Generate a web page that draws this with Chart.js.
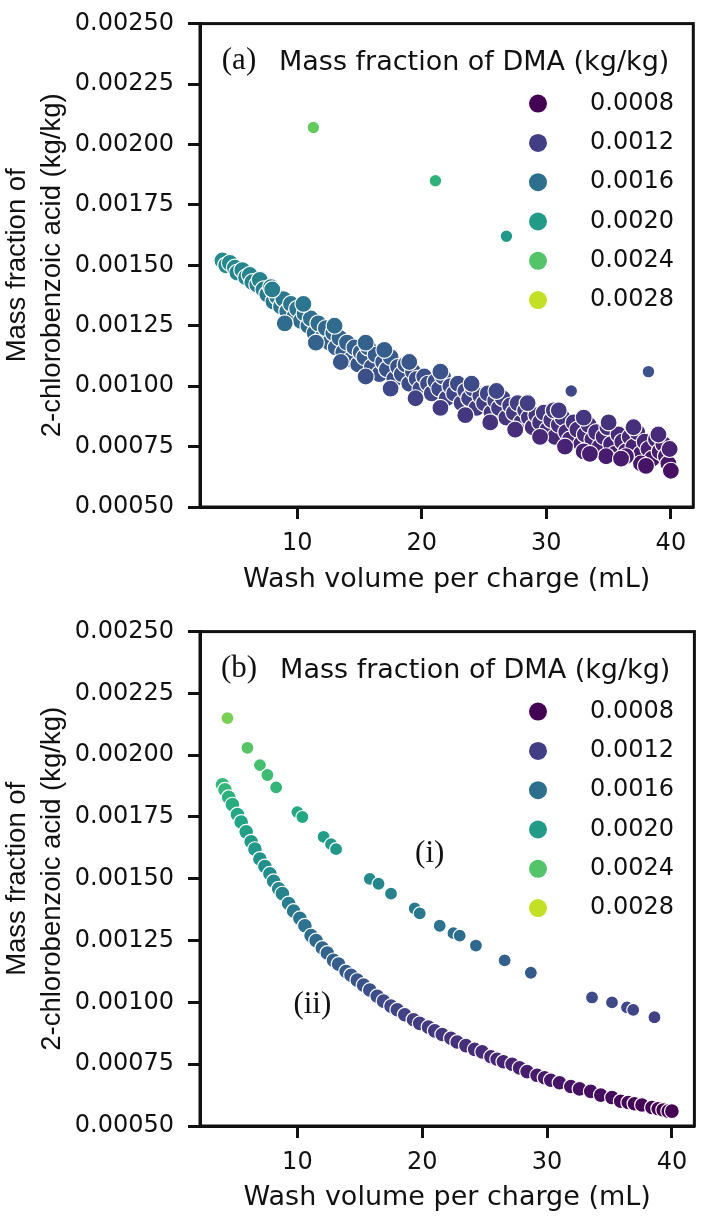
<!DOCTYPE html>
<html>
<head>
<meta charset="utf-8">
<script src="https://cdn.jsdelivr.net/npm/chart.js@4.4.4/dist/chart.umd.min.js"></script>
<style>
  html, body { margin: 0; padding: 0; background: #fff; }
  .panel { position: absolute; left: 0; width: 703px; height: 608px; }
  #panel-a { top: 0; }
  #panel-b { top: 608px; }
</style>
</head>
<body>
<div class="panel" id="panel-a"><canvas id="chart-a" width="703" height="608"></canvas></div>
<div class="panel" id="panel-b"><canvas id="chart-b" width="703" height="608"></canvas></div>
<script>
// axes
const xTicks = [10, 20, 30, 40];
const yTicks = [0.0005, 0.00075, 0.001, 0.00125, 0.0015, 0.00175, 0.002, 0.00225, 0.0025];

// hue legend (mass fraction of DMA)
const dmaLevels = [0.0008, 0.0012, 0.0016, 0.0020, 0.0024, 0.0028];
const dmaLabels = ['0.0008', '0.0012', '0.0016', '0.0020', '0.0024', '0.0028'];

// panel (a): main band
const washA = [
  4.0, 4.3, 4.6, 5.0, 5.2, 5.6, 5.9, 6.2, 6.4, 6.8,
  7.0, 7.3, 7.6, 7.9, 8.1, 8.4, 8.7, 8.9, 9.2, 9.5,
  9.8, 10.0, 10.3, 10.6, 10.9, 11.1, 11.4, 11.7, 12.0, 12.3,
  12.6, 12.9, 13.1, 13.4, 13.7, 14.0, 14.3, 14.6, 14.9, 15.1,
  15.4, 15.7, 16.0, 16.3, 16.6, 16.9, 17.2, 17.5, 17.8, 18.1,
  18.4, 18.7, 19.0, 19.3, 19.6, 19.9, 20.2, 20.5, 20.8, 21.1,
  21.4, 21.7, 22.0, 22.3, 22.6, 22.9, 23.2, 23.5, 23.8, 24.1,
  24.4, 24.7, 25.0, 25.3, 25.6, 25.9, 26.2, 26.5, 26.8, 27.1,
  27.4, 27.7, 28.0, 28.3, 28.6, 28.9, 29.2, 29.5, 29.8, 30.1,
  30.4, 30.7, 31.0, 31.3, 31.6, 31.9, 32.2, 32.5, 32.8, 33.1,
  33.4, 33.7, 34.0, 34.3, 34.6, 34.9, 35.2, 35.5, 35.8, 36.1,
  36.4, 36.7, 37.0, 37.3, 37.6, 37.9, 38.2, 38.5, 38.8, 39.1,
  39.4, 39.6, 39.8, 40.0, 39.9, 34.8, 37.6, 33.0, 36.4, 30.6,
  8.0, 10.5, 13.0, 15.5, 17.0, 19.0, 21.5, 24.0, 26.0, 28.5,
  31.0, 33.0, 35.0, 37.0, 39.0, 9.0, 11.5, 13.5, 15.5, 17.5,
  19.5, 21.5, 23.5, 25.5, 27.5, 29.5, 31.5, 33.5, 36.0, 38.0,
];
const fracA = [
  0.00152, 0.00150, 0.00151, 0.00149, 0.00147, 0.00148, 0.00145, 0.00146, 0.00143, 0.00142,
  0.00144, 0.00140, 0.00138, 0.00141, 0.00135, 0.00137, 0.00133, 0.00136, 0.00131, 0.00134,
  0.00129, 0.00132, 0.00127, 0.00130, 0.00125, 0.00128, 0.00122, 0.00126, 0.00120, 0.00124,
  0.00118, 0.00122, 0.00116, 0.00120, 0.00114, 0.00118, 0.00111, 0.00116, 0.00109, 0.00114,
  0.00112, 0.00116, 0.00108, 0.00113, 0.00105, 0.00110, 0.00107, 0.00112, 0.00103, 0.00108,
  0.00105, 0.00109, 0.00101, 0.00106, 0.00103, 0.00099, 0.00104, 0.00101, 0.00097, 0.00102,
  0.00099, 0.00104, 0.00095, 0.00100, 0.00097, 0.00101, 0.00093, 0.00098, 0.00095, 0.00099,
  0.00091, 0.00096, 0.00093, 0.00097, 0.00089, 0.00094, 0.00091, 0.00095, 0.00087, 0.00092,
  0.00089, 0.00093, 0.00085, 0.00090, 0.00087, 0.00083, 0.00088, 0.00085, 0.00089, 0.00082,
  0.00086, 0.00079, 0.00084, 0.00087, 0.00081, 0.00078, 0.00085, 0.00082, 0.00076, 0.00080,
  0.00084, 0.00078, 0.00081, 0.00075, 0.00079, 0.00083, 0.00076, 0.00072, 0.00080, 0.00077,
  0.00073, 0.00079, 0.00075, 0.00081, 0.00072, 0.00077, 0.00074, 0.00070, 0.00078, 0.00073,
  0.00076, 0.00071, 0.00068, 0.00065, 0.00074, 0.00071, 0.00068, 0.00073, 0.00071, 0.00090,
  0.00140, 0.00134, 0.00125, 0.00118, 0.00115, 0.00110, 0.00106, 0.00101, 0.00098, 0.00093,
  0.00090, 0.00087, 0.00085, 0.00083, 0.00080, 0.00126, 0.00118, 0.00110, 0.00104, 0.00099,
  0.00095, 0.00091, 0.00088, 0.00085, 0.00082, 0.00079, 0.00075, 0.00072, 0.00070, 0.00067,
];

// panel (a): isolated runs
const washAOut = [11.3, 21.1, 26.8, 32.0, 38.2];
const fracAOut = [0.00207, 0.00185, 0.00162, 0.00098, 0.00106];

// panel (b): curve (i)
const washB1 = [4.4, 6.0, 7.0, 7.6, 8.3, 10.0, 10.4, 12.1, 12.7, 13.1, 15.8, 16.5, 17.5,
  19.4, 19.8, 21.4, 22.5, 23.0, 24.3, 26.6, 28.7, 33.6, 35.2, 36.4, 36.9, 38.6];
const fracB1 = [0.00215, 0.00203, 0.00196, 0.00192, 0.00187, 0.00177, 0.00175, 0.00167, 0.00164,
  0.00162, 0.00150, 0.00148, 0.00144, 0.00138, 0.00136, 0.00131, 0.00128, 0.00127, 0.00123,
  0.00117, 0.00112, 0.00102, 0.00100, 0.00098, 0.00097, 0.00094];

// panel (b): curve (ii)
const washB2 = [
  4.0, 4.2, 4.5, 4.8, 5.2, 5.5, 5.9, 6.3, 6.6, 7.0,
  7.4, 7.8, 8.1, 8.5, 8.8, 9.3, 9.7, 10.2, 10.6, 11.1,
  11.5, 12.0, 12.4, 12.9, 13.3, 13.9, 14.3, 14.8, 15.3, 15.8,
  16.4, 16.9, 17.5, 18.0, 18.6, 19.3, 19.8, 20.5, 21.0, 21.6,
  22.3, 22.8, 23.5, 24.2, 24.8, 25.5, 26.0, 26.5, 27.2, 27.8,
  28.4, 29.2, 29.8, 30.3, 31.0, 31.9, 32.6, 33.5, 34.3, 35.2,
  35.9, 36.5, 37.0, 37.6, 38.4, 38.9, 39.3, 39.7, 40.0,
];
const fracB2 = [
  0.00188, 0.00186, 0.00183, 0.00180, 0.00176, 0.00173, 0.00169, 0.00165, 0.00162, 0.00158,
  0.00155, 0.00152, 0.00149, 0.00146, 0.00144, 0.00140, 0.00137, 0.00134, 0.00131, 0.00127,
  0.00125, 0.00122, 0.00120, 0.00117, 0.001155, 0.001125, 0.00111, 0.00109, 0.00107, 0.00105,
  0.001025, 0.001005, 0.000985, 0.00097, 0.00095, 0.00093, 0.000915, 0.0009, 0.000885, 0.00087,
  0.000855, 0.00084, 0.000825, 0.00081, 0.0008, 0.00078, 0.00077, 0.00076, 0.00075, 0.000735,
  0.00072, 0.000705, 0.000695, 0.000685, 0.000675, 0.00066, 0.00065, 0.00064, 0.000625, 0.000615,
  0.0006, 0.000595, 0.00059, 0.000585, 0.000575, 0.00057, 0.000565, 0.00056, 0.00056,
];

const TEXT = '#111111';
const AXIS = '#111111';
const SANS = '"DejaVu Sans", sans-serif';
const SERIF = '"Liberation Serif", "Times New Roman", serif';

const VIRIDIS = ['#440154', '#482475', '#414487', '#355f8d', '#2a788e', '#21918c',
  '#22a884', '#44bf70', '#7ad151', '#bddf26', '#fde725'];

function hexRgb(h) {
  return [1, 3, 5].map(i => parseInt(h.slice(i, i + 2), 16));
}

function viridis(t) {
  t = Math.min(1, Math.max(0, t));
  const p = t * 10;
  const i = Math.min(9, Math.floor(p));
  const f = p - i;
  const a = hexRgb(VIRIDIS[i]);
  const b = hexRgb(VIRIDIS[i + 1]);
  const c = a.map((v, k) => Math.round(v + (b[k] - v) * f));
  return `rgb(${c[0]},${c[1]},${c[2]})`;
}

// hue norm spans a little past the top legend level, as seaborn did
function dmaColor(v) { return viridis((v - 0.0008) / 0.0022); }

// the DMA level tracks the acid fraction in these runs; estimate it for the colour
function pointColor(c) {
  const y = c.raw ? c.raw.y : 0.001;
  return dmaColor(0.0008 + 1.1 * (y - 0.00056));
}

function pts(xs, ys) { return xs.map((x, i) => ({ x, y: ys[i] })); }

function scatterSet(xs, ys, r) {
  return {
    data: pts(xs, ys),
    pointRadius: r,
    pointHoverRadius: r,
    pointBackgroundColor: pointColor,
    pointBorderColor: '#ffffff',
    pointBorderWidth: 1.2,
    showLine: false,
  };
}

const panelText = {
  id: 'panelText',
  afterDraw(chart, args, opts) {
    const { ctx, chartArea: a, scales } = chart;
    ctx.save();
    ctx.strokeStyle = AXIS;
    ctx.lineWidth = 3;
    ctx.strokeRect(a.left, a.top, a.right - a.left, a.bottom - a.top);

    ctx.fillStyle = TEXT;
    ctx.textBaseline = 'middle';
    ctx.textAlign = 'center';
    ctx.font = `31px ${SERIF}`;
    ctx.fillText(opts.tag, a.left + 39, a.top + 37);
    (opts.notes || []).forEach(n => {
      ctx.fillText(n.text, scales.x.getPixelForValue(n.x), scales.y.getPixelForValue(n.y));
    });

    ctx.textAlign = 'right';
    ctx.font = `27px ${SANS}`;
    ctx.fillText('Mass fraction of DMA (kg/kg)', a.right - 24, a.top + 39);

    ctx.textAlign = 'left';
    ctx.font = `24px ${SANS}`;
    dmaLevels.forEach((v, i) => {
      const y = a.top + 80 + i * 39.3;
      ctx.beginPath();
      ctx.arc(a.left + 338, y, 9, 0, Math.PI * 2);
      ctx.fillStyle = dmaColor(v);
      ctx.fill();
      ctx.fillStyle = TEXT;
      ctx.fillText(dmaLabels[i], a.left + 390, y);
    });
    ctx.restore();
  },
};

function makeChart(id, datasets, cfg) {
  return new Chart(document.getElementById(id), {
    type: 'scatter',
    data: { datasets },
    plugins: [panelText],
    options: {
      responsive: false,
      animation: false,
      events: [],
      layout: { padding: { top: cfg.top, right: 6, bottom: 0, left: 0 } },
      plugins: {
        legend: { display: false },
        tooltip: { enabled: false },
        panelText: { tag: cfg.tag, notes: cfg.notes },
      },
      scales: {
        x: {
          type: 'linear',
          min: 2.2,
          max: 41.8,
          afterBuildTicks: s => { s.ticks = xTicks.map(v => ({ value: v })); },
          afterFit: s => { s.height = cfg.xHeight; },
          border: { display: true, width: 3, color: AXIS },
          grid: { display: true, drawOnChartArea: false, drawTicks: true, tickLength: 12, tickWidth: 3, tickColor: AXIS },
          ticks: { color: TEXT, padding: 10, maxRotation: 0, font: { family: SANS, size: 24, lineHeight: 1.2 } },
          title: {
            display: true,
            text: 'Wash volume per charge (mL)',
            color: TEXT,
            font: { family: SANS, size: 27, lineHeight: 1.2 },
            padding: { top: 0, bottom: cfg.titlePad },
          },
        },
        y: {
          type: 'linear',
          min: 0.0005,
          max: 0.0025,
          afterBuildTicks: s => { s.ticks = yTicks.map(v => ({ value: v })); },
          afterFit: s => { s.width = 200; },
          border: { display: true, width: 3, color: AXIS },
          grid: { display: true, drawOnChartArea: false, drawTicks: true, tickLength: 12, tickWidth: 3, tickColor: AXIS },
          ticks: {
            color: TEXT,
            padding: 14,
            font: { family: SANS, size: 24, lineHeight: 0.8 },
            callback: v => Number(v).toFixed(5),
          },
          title: {
            display: true,
            text: ['Mass fraction of', '2-chlorobenzoic acid (kg/kg)'],
            color: TEXT,
            font: { family: '"Liberation Sans", Arial, sans-serif', size: 27.5, lineHeight: 1.26 },
            padding: { top: 0, bottom: 0 },
          },
        },
      },
    },
  });
}

makeChart('chart-a', [
  scatterSet(washA, fracA, 8.5),
  scatterSet(washAOut, fracAOut, 6.3),
], { top: 10, xHeight: 101, titlePad: 12, tag: '(a)', notes: [] });

makeChart('chart-b', [
  scatterSet(washB1, fracB1, 6.5),
  scatterSet(washB2, fracB2, 7.4),
], {
  top: 21, xHeight: 90, titlePad: 2, tag: '(b)',
  notes: [{ text: '(i)', x: 20.6, y: 0.0016 }, { text: '(ii)', x: 11.2, y: 0.00099 }],
});
</script>
</body>
</html>
